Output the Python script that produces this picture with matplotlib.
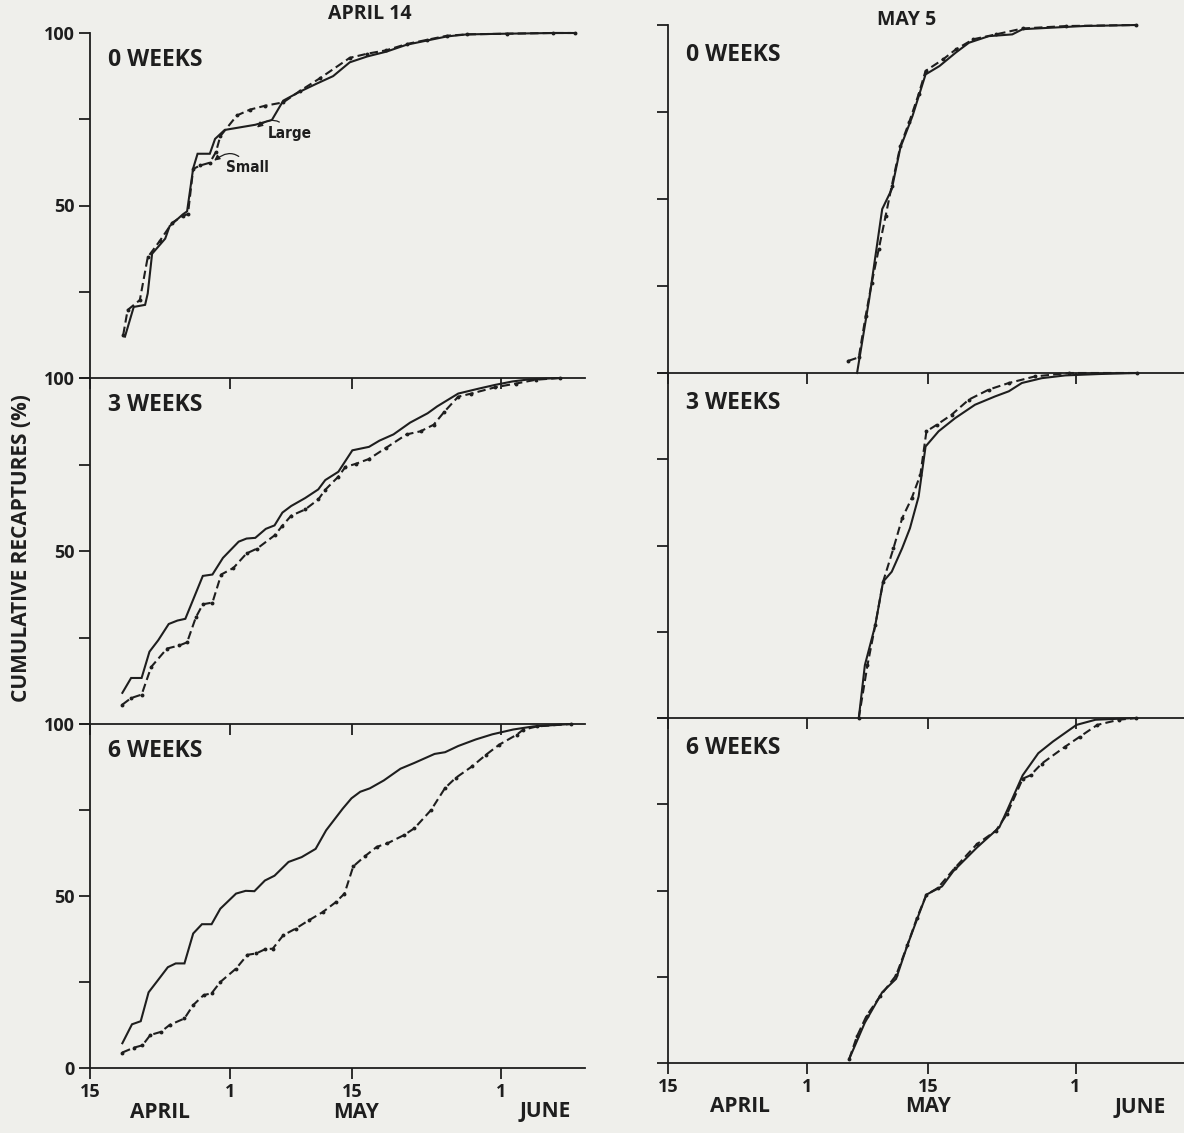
import matplotlib
matplotlib.use("Agg")
import matplotlib.pyplot as plt

plt.rcParams['font.family'] = ['Open Sans', 'DejaVu Sans']
plt.rcParams['font.weight'] = 'bold'

# days after April 15 (May 1 = 16, May 15 = 30, June 1 = 47), cumulative % recaptured
# --- released April 14 ---
apr_0wk_large_x = [4.0, 5.0, 6.3, 6.6, 7.1, 8.6, 9.1, 10.6, 11.1, 11.8, 12.3, 13.7, 14.3, 15.4, 18.9,
                   20.8, 22.1, 24.0, 25.9, 27.8, 29.7, 31.7, 33.9, 36.2, 38.5, 40.8, 43.1, 47.7, 52.9, 54.9]
apr_0wk_large_y = [12, 20.6, 21.2, 24.5, 36, 40.4, 44, 47.4, 48.3, 60.8, 65, 65, 69.3, 71.9, 73.4,
                   74.8, 80.4, 83, 85.3, 87.5, 91.5, 93.2, 94.6, 96.6, 97.8, 99, 99.6, 99.8, 100, 100]
apr_0wk_small_x = [3.8, 4.3, 5.7, 6.6, 8.0, 9.4, 10.6, 11.2, 11.8, 12.6, 13.7, 14.4, 14.9, 16.8, 18.3,
                   20.0, 22.1, 24.0, 26.3, 29.7, 31.7, 33.9, 36.2, 38.5, 40.8, 43.1, 47.7, 52.9, 55.4]
apr_0wk_small_y = [12.5, 19.7, 22.6, 35, 39.8, 45, 47, 47.5, 60.6, 61.6, 62.4, 65.5, 70.1, 76.1, 77.8,
                   78.9, 79.9, 83.2, 86.9, 92.8, 94, 95, 96.8, 98, 99.2, 99.6, 99.8, 100, 100]

apr_3wk_large_x = [3.7, 4.7, 5.9, 6.8, 7.8, 9.0, 10.0, 10.9, 12.9, 14.0, 15.2, 17.0, 17.9, 18.9, 20.1,
                   21.1, 22.0, 23.0, 24.6, 26.1, 26.9, 28.4, 30.0, 31.9, 33.1, 34.7, 36.6, 38.6, 39.7,
                   42.1, 44.4, 46.3, 48.3, 50.2, 53.7]
apr_3wk_large_y = [9.0, 13.3, 13.3, 20.9, 24.2, 28.9, 29.9, 30.4, 42.8, 43.2, 48.0, 52.7, 53.6, 53.8, 56.4,
                   57.4, 61.1, 63.0, 65.3, 67.8, 70.5, 72.9, 79.1, 80.1, 81.9, 83.7, 87.1, 89.8, 91.8,
                   95.5, 96.9, 98.0, 99.0, 99.6, 100]
apr_3wk_small_x = [3.7, 4.7, 5.9, 7.0, 8.8, 10.2, 11.1, 12.1, 12.9, 14.0, 15.0, 16.4, 17.9, 19.1, 21.1,
                   22.0, 23.0, 24.6, 26.1, 26.9, 28.4, 29.2, 30.4, 31.9, 33.9, 36.2, 37.8, 39.3, 40.5,
                   42.1, 43.6, 46.3, 48.7, 51.0, 53.7]
apr_3wk_small_y = [5.6, 7.5, 8.5, 16.5, 21.8, 22.7, 23.6, 30.8, 34.6, 35.1, 43.2, 45.1, 49.3, 50.7, 54.5,
                   57.3, 60.2, 62.0, 64.9, 67.7, 71.5, 74.3, 75.2, 76.6, 79.9, 83.7, 84.6, 86.5, 90.2,
                   94.6, 95.5, 97.3, 98.4, 99.5, 100]

apr_6wk_large_x = [3.7, 4.8, 5.8, 6.7, 7.7, 8.9, 9.8, 10.8, 11.8, 12.8, 13.9, 14.9, 16.7, 17.8, 18.8,
                   20.0, 21.1, 22.7, 24.2, 25.8, 27.0, 28.9, 29.9, 30.9, 32.0, 33.6, 35.5, 37.1, 39.4,
                   40.6, 42.1, 44.1, 46.0, 48.4, 50.7, 55.0]
apr_6wk_large_y = [7.2, 12.7, 13.6, 22.0, 25.3, 29.3, 30.4, 30.4, 39.1, 41.8, 41.8, 46.3, 50.7, 51.5, 51.4,
                   54.5, 55.9, 59.9, 61.3, 63.7, 69.1, 75.4, 78.4, 80.3, 81.3, 83.6, 87.0, 88.7, 91.3,
                   91.8, 93.6, 95.5, 97.0, 98.4, 99.3, 100]
apr_6wk_small_x = [3.7, 5.0, 6.0, 6.9, 8.1, 9.1, 10.8, 11.8, 13.0, 13.9, 14.9, 16.7, 18.0, 19.0, 20.0,
                   20.9, 22.1, 23.5, 25.0, 26.6, 28.1, 29.1, 30.1, 31.4, 32.8, 34.0, 35.9, 37.1, 39.0,
                   40.6, 41.8, 43.7, 45.3, 46.8, 48.8, 49.5, 51.1, 55.0]
apr_6wk_small_y = [4.5, 5.9, 6.6, 9.6, 10.5, 12.5, 14.4, 18.3, 21.2, 21.7, 25.0, 28.9, 32.9, 33.3, 34.5,
                   34.7, 38.6, 40.5, 42.9, 45.3, 48.2, 50.7, 58.6, 61.5, 64.3, 65.3, 67.7, 69.7, 75.0,
                   81.4, 84.3, 87.7, 91.1, 94.0, 96.9, 98.3, 99.3, 100]

# --- released May 5 ---
may_0wk_large_x = [21.8, 23.2, 24.7, 25.8, 26.8, 28.2, 29.7, 31.3, 33.2, 34.7, 37.0, 39.7, 40.9, 44.0, 47.9, 54.0]
may_0wk_large_y = [0, 21.2, 47.1, 52.8, 64.8, 73.9, 85.8, 88.2, 92.1, 94.9, 96.8, 97.3, 98.8, 99.2, 99.7, 100]
may_0wk_small_x = [20.8, 22.0, 22.8, 23.5, 24.3, 25.1, 25.8, 26.8, 27.8, 28.9, 29.7, 31.7, 33.2, 35.2,
                   37.8, 40.9, 45.9, 54.0]
may_0wk_small_y = [3.5, 4.5, 16.5, 26.0, 35.6, 45.2, 53.8, 65.3, 72.0, 80.1, 86.8, 90.1, 93.0, 95.9,
                   97.3, 99.0, 99.7, 100]

may_3wk_large_x = [22.0, 22.7, 23.9, 24.8, 25.8, 27.0, 27.9, 28.9, 29.7, 31.2, 33.1, 35.4, 37.7, 39.3,
                   40.8, 43.1, 45.8, 49.7, 54.1]
may_3wk_large_y = [0, 15.3, 26.9, 39.5, 42.4, 49.2, 55.0, 64.2, 78.7, 83.1, 86.9, 90.8, 93.2, 94.7,
                   97.1, 98.5, 99.3, 99.7, 100]
may_3wk_small_x = [22.0, 23.0, 23.9, 24.8, 26.0, 27.0, 28.1, 29.1, 29.8, 31.0, 32.7, 34.7, 37.0, 39.3,
                   42.3, 46.2, 54.1]
may_3wk_small_y = [0, 15.3, 26.9, 39.5, 49.2, 57.9, 63.7, 70.5, 83.1, 85.0, 87.9, 92.3, 95.2, 97.1,
                   99.0, 100, 100]

may_6wk_large_x = [20.9, 22.7, 24.7, 26.3, 27.6, 28.9, 29.8, 31.6, 32.9, 35.6, 38.2, 39.1, 40.9, 42.7,
                   44.4, 47.1, 49.3, 54.0]
may_6wk_large_y = [1.2, 11.7, 20.5, 24.4, 34.1, 42.9, 48.8, 51.2, 55.6, 62.4, 68.3, 73.2, 83.4, 89.8,
                   93.2, 98.0, 99.5, 100]
may_6wk_small_x = [20.9, 21.8, 22.9, 24.5, 26.3, 27.6, 28.7, 29.8, 31.1, 33.1, 35.6, 37.8, 39.1, 40.9,
                   41.8, 43.1, 45.8, 47.5, 49.5, 52.0, 54.0]
may_6wk_small_y = [1.2, 7.8, 13.7, 19.5, 25.4, 34.1, 42.0, 48.8, 50.7, 56.6, 63.4, 67.3, 72.2, 82.4,
                   83.4, 86.8, 91.7, 94.6, 98.0, 99.5, 100]

week_labels = ['0 WEEKS', '3 WEEKS', '6 WEEKS']
release_titles = ['APRIL 14', 'MAY 5']
day_ticks = [0, 16, 30, 47]
day_tick_labels = ['15', '1', '15', '1']
months = ['APRIL', 'MAY', 'JUNE']
ylabel = 'CUMULATIVE RECAPTURES (%)'

W, H = 1184, 1133
fig = plt.figure(figsize=(W / 100, H / 100), dpi=100)
fig.patch.set_facecolor('#efefeb')
ink = '#1e1e1e'

# pixel frames: (left, right, xmax in days, [(top, bottom) per row])
columns = [
    (90, 585, 56.6, [(33, 378), (378, 724), (724, 1068)]),
    (668, 1184, 59.5, [(25, 373), (373, 718), (718, 1063)]),
]
series = [
    [(apr_0wk_large_x, apr_0wk_large_y, apr_0wk_small_x, apr_0wk_small_y),
     (apr_3wk_large_x, apr_3wk_large_y, apr_3wk_small_x, apr_3wk_small_y),
     (apr_6wk_large_x, apr_6wk_large_y, apr_6wk_small_x, apr_6wk_small_y)],
    [(may_0wk_large_x, may_0wk_large_y, may_0wk_small_x, may_0wk_small_y),
     (may_3wk_large_x, may_3wk_large_y, may_3wk_small_x, may_3wk_small_y),
     (may_6wk_large_x, may_6wk_large_y, may_6wk_small_x, may_6wk_small_y)],
]
month_pos = [[8.0, 30.4, 52.0], [8.3, 30.0, 54.4]]

axes = {}
for c, (left, right, xmax, rows) in enumerate(columns):
    for r, (top, bottom) in enumerate(rows):
        ax = fig.add_axes([left / W, 1 - bottom / H, (right - left) / W, (bottom - top) / H])
        ax.patch.set_visible(False)
        ax.set_xlim(0, xmax)
        ax.set_ylim(0, 100)
        for s in ['top', 'right']:
            ax.spines[s].set_visible(False)
        for s in ['left', 'bottom']:
            ax.spines[s].set_linewidth(1.3)
            ax.spines[s].set_color(ink)
        ax.tick_params(direction='out', length=8, width=1.3, color=ink, labelcolor=ink,
                       labelsize=13, pad=3)
        ax.set_xticks(day_ticks)
        if r == 2:
            ax.set_xticklabels(day_tick_labels, fontweight='bold')
            for m, d in zip(months, month_pos[c]):
                ax.annotate(m, xy=(d, 0), xycoords=('data', 'axes fraction'),
                            xytext=(0, -44), textcoords='offset pixels',
                            ha='center', va='center', fontsize=15, fontweight='bold', color=ink)
        else:
            ax.set_xticklabels([])
        ax.set_yticks([0, 25, 50, 75, 100])
        if c == 0:
            ylabs = ['0' if r == 2 else '', '', '50', '', '100']
            ax.set_yticklabels(ylabs, fontweight='bold')
        else:
            ax.set_yticklabels([])

        lx, ly, sx, sy = series[c][r]
        ax.plot(lx, ly, color=ink, lw=1.5, solid_joinstyle='miter', clip_on=False)
        ax.plot(sx, sy, color=ink, lw=1.5, linestyle=(0, (4, 2)), marker='o', markersize=1.8,
                clip_on=False)

        fig.text((left + 18) / W, 1 - (top + 27 if c == 0 else top + 30) / H, week_labels[r],
                 fontsize=16.5, fontweight='bold', color=ink, va='center', ha='left')
        axes[(c, r)] = ax

fig.text(370 / W, 1 - 14 / H, release_titles[0], fontsize=14, fontweight='bold', color=ink,
         ha='center', va='center')
fig.text(907 / W, 1 - 20 / H, release_titles[1], fontsize=14, fontweight='bold', color=ink,
         ha='center', va='center')
fig.text(22 / W, 1 - 548 / H, ylabel, rotation=90, fontsize=15, fontweight='bold', color=ink,
         ha='center', va='center')

# curve labels in the first panel
ax0 = axes[(0, 0)]
ax0.annotate('Large', xy=(19.1, 72.6), xytext=(20.3, 71.0), fontsize=11, fontweight='bold',
             family=['DejaVu Sans'], fontstretch='condensed', color=ink, va='center', ha='left',
             arrowprops=dict(arrowstyle='-|>', color=ink, lw=0.9, mutation_scale=8,
                             connectionstyle='arc3,rad=0.6', shrinkA=1, shrinkB=0))
ax0.annotate('Small', xy=(14.2, 63.0), xytext=(15.6, 61.0), fontsize=11, fontweight='bold',
             family=['DejaVu Sans'], fontstretch='condensed', color=ink, va='center', ha='left',
             arrowprops=dict(arrowstyle='-|>', color=ink, lw=0.9, mutation_scale=8,
                             connectionstyle='arc3,rad=0.6', shrinkA=1, shrinkB=0))

fig.savefig('out.png', dpi=100, facecolor=fig.get_facecolor())
